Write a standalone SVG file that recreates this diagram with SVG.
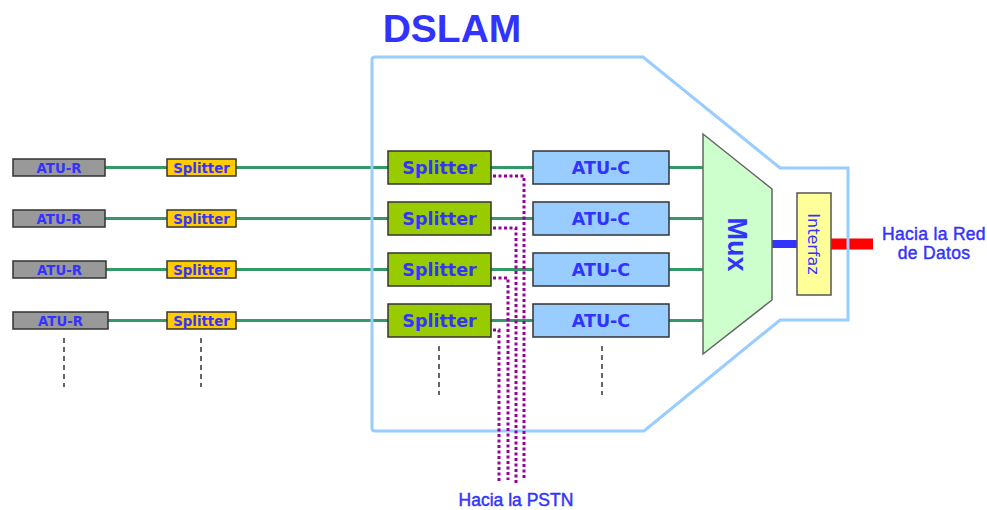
<svg xmlns="http://www.w3.org/2000/svg" width="987" height="510" viewBox="0 0 987 510">
<style>
.bx{stroke:#333;stroke-width:1.5}
.atur{fill:#999}
.spl{fill:#ffcc00}
.splb{fill:#99cc00}
.atuc{fill:#99ccff}
.t{font-family:"DejaVu Sans",Verdana,sans-serif;font-weight:bold;fill:#3333ff;text-anchor:middle}
.ts{font-size:13.3px}
.tb{font-size:17.5px}
.lbl{font-family:"Liberation Sans",Arial,sans-serif;fill:#3333ff;stroke:#3333ff;stroke-width:0.45;font-size:17.5px;text-anchor:middle}
.g{stroke:#339966;stroke-width:3;fill:none}
.p{stroke:#990099;stroke-width:3;stroke-dasharray:3 2.5;fill:none}
.d{stroke:#333;stroke-width:1.5;stroke-dasharray:5 4;fill:none}
</style>
<rect width="987" height="510" fill="#fff"/>
<text x="452" y="42" font-family="Liberation Sans,Arial,sans-serif" font-weight="bold" font-size="39" fill="#3333ff" text-anchor="middle">DSLAM</text>
<g id="connectors">
<path class="g" d="M105,167.5H167M236,167.5H388M491,167.5H533M669,167.5H703"/>
<path class="g" d="M105,218.5H167M236,218.5H388M491,218.5H533M669,218.5H703"/>
<path class="g" d="M106,269.5H167M236,269.5H388M491,269.5H533M669,269.5H703"/>
<path class="g" d="M108,320.5H167M236,320.5H388M491,320.5H533M669,320.5H703"/>
<line x1="772" y1="244" x2="797" y2="244" stroke="#3333ff" stroke-width="8"/>
<line x1="831" y1="244" x2="873" y2="244" stroke="#ff0000" stroke-width="11"/>
</g>
<path id="dslam" d="M372,60Q372,57 375,57L643,57L780,168L848,168L848,320L780,320L644,431L375,431Q372,431 372,428Z" fill="none" stroke="#99ccff" stroke-width="3"/>
<g id="pstn-lines">
<path class="p" d="M493,176H524V480"/>
<path class="p" d="M493,228H516V483"/>
<path class="p" d="M493,278H508V480"/>
<path class="p" d="M493,330H499V483"/>
</g>
<g id="dashes">
<line class="d" x1="64" y1="338" x2="64" y2="387"/>
<line class="d" x1="201" y1="338" x2="201" y2="387"/>
<line class="d" x1="439" y1="346" x2="439" y2="395"/>
<line class="d" x1="602" y1="346" x2="602" y2="395"/>
</g>
<g id="atur1"><rect class="bx atur" x="13" y="159" width="92" height="17"/><text class="t ts" x="59" y="172.5">ATU-R</text></g>
<g id="atur2"><rect class="bx atur" x="13" y="210" width="92" height="17"/><text class="t ts" x="59" y="223.5">ATU-R</text></g>
<g id="atur3"><rect class="bx atur" x="13" y="261" width="93" height="17"/><text class="t ts" x="59.5" y="274.5">ATU-R</text></g>
<g id="atur4"><rect class="bx atur" x="13" y="312" width="95" height="17"/><text class="t ts" x="60.5" y="325.5">ATU-R</text></g>
<g id="spl1"><rect class="bx spl" x="167" y="159" width="69" height="17"/><text class="t ts" x="201.5" y="172.5">Splitter</text></g>
<g id="spl2"><rect class="bx spl" x="167" y="210" width="69" height="17"/><text class="t ts" x="201.5" y="223.5">Splitter</text></g>
<g id="spl3"><rect class="bx spl" x="167" y="261" width="69" height="17"/><text class="t ts" x="201.5" y="274.5">Splitter</text></g>
<g id="spl4"><rect class="bx spl" x="167" y="312" width="69" height="17"/><text class="t ts" x="201.5" y="325.5">Splitter</text></g>
<g id="splb1"><rect class="bx splb" x="388" y="151" width="103" height="33"/><text class="t tb" x="439.5" y="174">Splitter</text></g>
<g id="splb2"><rect class="bx splb" x="388" y="202" width="103" height="33"/><text class="t tb" x="439.5" y="225">Splitter</text></g>
<g id="splb3"><rect class="bx splb" x="388" y="253" width="103" height="33"/><text class="t tb" x="439.5" y="276">Splitter</text></g>
<g id="splb4"><rect class="bx splb" x="388" y="304" width="103" height="33"/><text class="t tb" x="439.5" y="327">Splitter</text></g>
<g id="atuc1"><rect class="bx atuc" x="533" y="151" width="136" height="33"/><text class="t tb" x="601" y="174">ATU-C</text></g>
<g id="atuc2"><rect class="bx atuc" x="533" y="202" width="136" height="33"/><text class="t tb" x="601" y="225">ATU-C</text></g>
<g id="atuc3"><rect class="bx atuc" x="533" y="253" width="136" height="33"/><text class="t tb" x="601" y="276">ATU-C</text></g>
<g id="atuc4"><rect class="bx atuc" x="533" y="304" width="136" height="33"/><text class="t tb" x="601" y="327">ATU-C</text></g>
<g id="mux"><polygon points="703,134 772,189 772,300 703,354" fill="#ccffcc" stroke="#666" stroke-width="1.5"/><text transform="translate(728,244.5) rotate(90)" font-family="Liberation Sans,Arial,sans-serif" font-weight="bold" font-size="27" fill="#3333ff" text-anchor="middle">Mux</text></g>
<g id="interfaz"><rect x="797" y="193" width="34" height="102" fill="#ffff99" stroke="#555" stroke-width="1.5"/><text transform="translate(807.5,244) rotate(90)" font-family="DejaVu Sans,Verdana,sans-serif" font-size="16" fill="#3333ff" text-anchor="middle">Interfaz</text></g>
<text class="lbl" x="934" y="239.5" letter-spacing="0.3">Hacia la Red</text>
<text class="lbl" x="934" y="259" letter-spacing="0.3">de Datos</text>
<text class="lbl" x="516" y="505.5">Hacia la PSTN</text>
</svg>
